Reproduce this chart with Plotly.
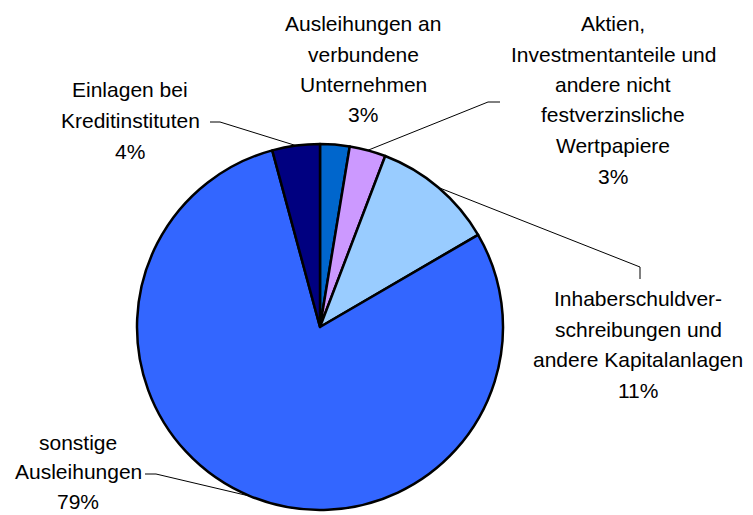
import numpy as np
import plotly.graph_objects as go

# ---- data ----
categories = [
    "Ausleihungen an verbundene Unternehmen",
    "Aktien, Investmentanteile und andere nicht festverzinsliche Wertpapiere",
    "Inhaberschuldverschreibungen und andere Kapitalanlagen",
    "sonstige Ausleihungen",
    "Einlagen bei Kreditinstituten",
]
values = [2.6, 3.2, 10.8, 79.2, 4.2]
pct_labels = ["3%", "3%", "11%", "79%", "4%"]
label_lines = [
    ["Ausleihungen an", "verbundene", "Unternehmen"],
    ["Aktien,", "Investmentanteile und", "andere nicht", "festverzinsliche", "Wertpapiere"],
    ["Inhaberschuldver-", "schreibungen und", "andere Kapitalanlagen"],
    ["sonstige", "Ausleihungen"],
    ["Einlagen bei", "Kreditinstituten"],
]
colors = ["#0066CC", "#CC99FF", "#99CCFF", "#3366FF", "#000080"]

# ---- layout constants (pixels, in the page's coordinates) ----
W, H = 753, 515
OFF = 8  # page body margin offsets the plot
cx, cy, R = 320, 327, 183
FONT = "Liberation Sans, Arial, sans-serif"
FS = 21
LINE_GAP = 30.5
# label block anchors: (center x, first-line center y, line gap)
label_pos = [(363, 23.5, 30.5), (613, 23.5, 30.5), (638, 298.5, 30.5),
             (78, 442, 29.5), (130, 89.5, 31)]
# leader elbows: pixel points after the slice edge point (None = no leader)
leader_elbows = [
    None,
    [(488, 102), (500, 102)],
    [(640, 267), (640, 279)],
    [(156, 474), (145, 474)],
    [(220, 122), (210, 122)],
]


def px(x):
    return (x - OFF) / W


def py(y):
    return 1 - (y - OFF) / H


fig = go.Figure(
    go.Pie(
        labels=categories,
        values=values,
        sort=False,
        direction="clockwise",
        rotation=0,
        marker=dict(colors=colors, line=dict(color="black", width=2.5)),
        textinfo="none",
        hoverinfo="label+percent",
        showlegend=False,
        domain=dict(x=[px(cx - R), px(cx + R)], y=[py(cy + R), py(cy - R)]),
    )
)

annotations = []
for lines, pct, (lx, ly, gap) in zip(label_lines, pct_labels, label_pos):
    for i, t in enumerate(lines + [pct]):
        annotations.append(
            dict(
                x=px(lx), y=py(ly + i * gap), xref="paper", yref="paper",
                text=t, showarrow=False, xanchor="center", yanchor="middle",
                font=dict(family=FONT, size=FS, color="black"),
            )
        )

shapes = []
total = sum(values)
cum = np.cumsum([0] + values)
for k, elbows in enumerate(leader_elbows):
    if elbows is None:
        continue
    mid = (cum[k] + cum[k + 1]) / 2 / total * 2 * np.pi
    ex, ey = cx + R * np.sin(mid), cy - R * np.cos(mid)
    pts = [(ex, ey)] + elbows
    for (x0, y0), (x1, y1) in zip(pts[:-1], pts[1:]):
        shapes.append(
            dict(type="line", xref="paper", yref="paper",
                 x0=px(x0), y0=py(y0), x1=px(x1), y1=py(y1),
                 line=dict(color="black", width=1))
        )

fig.update_layout(
    width=W, height=H,
    margin=dict(l=0, r=0, t=0, b=0),
    paper_bgcolor="white", plot_bgcolor="white",
    annotations=annotations, shapes=shapes,
)

fig.write_html("out.html")
